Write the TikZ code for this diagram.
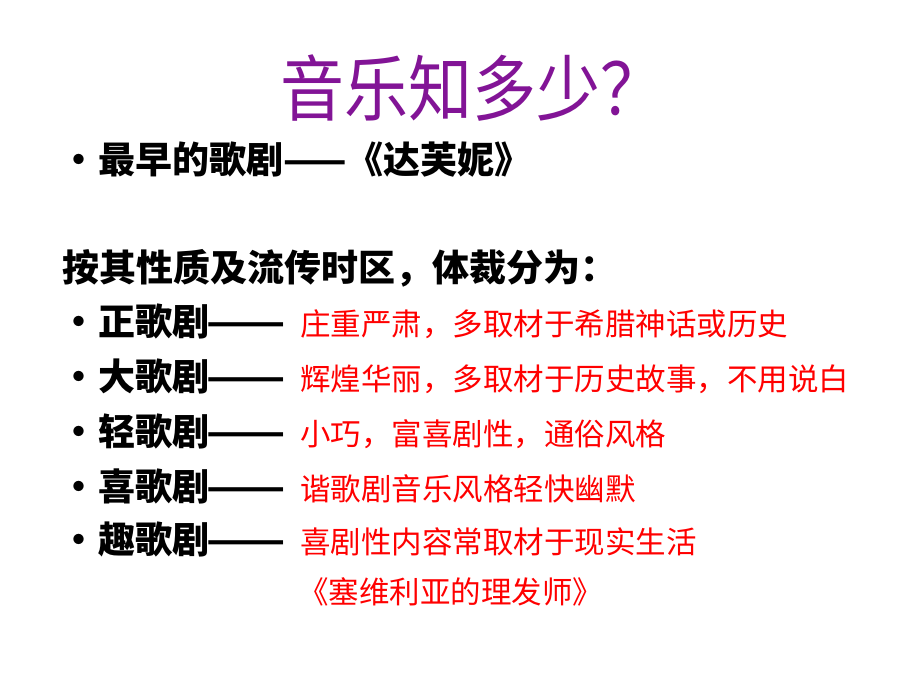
\documentclass[tikz,border=0pt]{standalone}
\usepackage{fontspec}
\setmainfont{Noto Sans CJK SC}
\newfontfamily\cjk{Noto Sans CJK SC}
\definecolor{ttl}{RGB}{130,20,150}
\definecolor{rd}{RGB}{255,0,0}
\begin{document}
\begin{tikzpicture}[x=1pt,y=-1pt,
  big/.style={anchor=base west,inner sep=0pt,font=\cjk\bfseries\fontsize{37}{40}\selectfont},
  red/.style={anchor=base west,inner sep=0pt,text=rd,font=\cjk\fontsize{30.5}{32}\selectfont},
  dot/.style={anchor=base west,inner sep=0pt,font=\cjk\bfseries\fontsize{37}{40}\selectfont}]
\useasboundingbox[fill=white] (0,0) rectangle (920,690);
\node[anchor=base,inner sep=0pt,text=ttl,font=\cjk\fontsize{64}{66}\selectfont,yscale=1.12] (t) at (472,116) {音乐知多少？};
\node[dot] (b0) at (60,173) {•};
\node[big] (l0) at (98,173) {最早的歌剧——《达芙妮》};
\node[big] (l1) at (62,281) {按其性质及流传时区，体裁分为：};
\foreach \y/\a/\b [count=\i] in {335/正歌剧/庄重严肃，多取材于希腊神话或历史,
  390/大歌剧/辉煌华丽，多取材于历史故事，不用说白,
  445/轻歌剧/小巧，富喜剧性，通俗风格,
  500/喜歌剧/谐歌剧音乐风格轻快幽默,
  553/趣歌剧/喜剧性内容常取材于现实生活}{
  \node[dot] (d\i) at (60,\y) {•};
  \node[big] (a\i) at (98,\y) {\a};
  \node[big,xscale=1.25] (m\i) at (206,\y) {——};
  \node[red] (r\i) at (300,\y) {\b};
}
\node[red] (last) at (298,603) {《塞维利亚的理发师》};
\end{tikzpicture}
\end{document}
